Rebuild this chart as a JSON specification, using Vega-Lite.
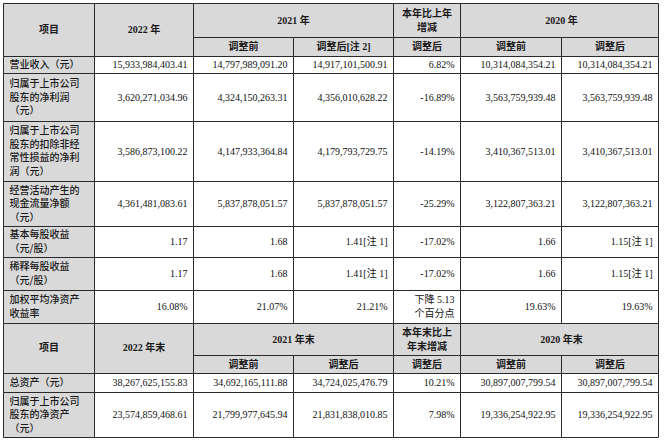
{
  "$schema": "https://vega.github.io/schema/vega-lite/v6.json",
  "width": 664,
  "height": 441,
  "padding": 0,
  "autosize": {"type": "none"},
  "background": "#ffffff",
  "config": {"view": {"stroke": null}},
  "data": {"values": [
    {"r":0,"r2":2,"c":0,"c2":1,"kind":"head","text":"项目"},
    {"r":0,"r2":2,"c":1,"c2":2,"kind":"head","text":"2022 年"},
    {"r":0,"r2":1,"c":2,"c2":4,"kind":"head","text":"2021 年"},
    {"r":0,"r2":1,"c":4,"c2":5,"kind":"head","text":"本年比上年\n增减"},
    {"r":0,"r2":1,"c":5,"c2":7,"kind":"head","text":"2020 年"},
    {"r":1,"r2":2,"c":2,"c2":3,"kind":"head","text":"调整前"},
    {"r":1,"r2":2,"c":3,"c2":4,"kind":"head","text":"调整后[注 2]"},
    {"r":1,"r2":2,"c":4,"c2":5,"kind":"head","text":"调整后"},
    {"r":1,"r2":2,"c":5,"c2":6,"kind":"head","text":"调整前"},
    {"r":1,"r2":2,"c":6,"c2":7,"kind":"head","text":"调整后"},

    {"r":2,"r2":3,"c":0,"c2":1,"kind":"label","text":"营业收入（元）"},
    {"r":2,"r2":3,"c":1,"c2":2,"kind":"value","text":"15,933,984,403.41"},
    {"r":2,"r2":3,"c":2,"c2":3,"kind":"value","text":"14,797,989,091.20"},
    {"r":2,"r2":3,"c":3,"c2":4,"kind":"value","text":"14,917,101,500.91"},
    {"r":2,"r2":3,"c":4,"c2":5,"kind":"value","text":"6.82%"},
    {"r":2,"r2":3,"c":5,"c2":6,"kind":"value","text":"10,314,084,354.21"},
    {"r":2,"r2":3,"c":6,"c2":7,"kind":"value","text":"10,314,084,354.21"},

    {"r":3,"r2":4,"c":0,"c2":1,"kind":"label","text":"归属于上市公司\n股东的净利润\n（元）"},
    {"r":3,"r2":4,"c":1,"c2":2,"kind":"value","text":"3,620,271,034.96"},
    {"r":3,"r2":4,"c":2,"c2":3,"kind":"value","text":"4,324,150,263.31"},
    {"r":3,"r2":4,"c":3,"c2":4,"kind":"value","text":"4,356,010,628.22"},
    {"r":3,"r2":4,"c":4,"c2":5,"kind":"value","text":"-16.89%"},
    {"r":3,"r2":4,"c":5,"c2":6,"kind":"value","text":"3,563,759,939.48"},
    {"r":3,"r2":4,"c":6,"c2":7,"kind":"value","text":"3,563,759,939.48"},

    {"r":4,"r2":5,"c":0,"c2":1,"kind":"label","text":"归属于上市公司\n股东的扣除非经\n常性损益的净利\n润（元）"},
    {"r":4,"r2":5,"c":1,"c2":2,"kind":"value","text":"3,586,873,100.22"},
    {"r":4,"r2":5,"c":2,"c2":3,"kind":"value","text":"4,147,933,364.84"},
    {"r":4,"r2":5,"c":3,"c2":4,"kind":"value","text":"4,179,793,729.75"},
    {"r":4,"r2":5,"c":4,"c2":5,"kind":"value","text":"-14.19%"},
    {"r":4,"r2":5,"c":5,"c2":6,"kind":"value","text":"3,410,367,513.01"},
    {"r":4,"r2":5,"c":6,"c2":7,"kind":"value","text":"3,410,367,513.01"},

    {"r":5,"r2":6,"c":0,"c2":1,"kind":"label","text":"经营活动产生的\n现金流量净额\n（元）"},
    {"r":5,"r2":6,"c":1,"c2":2,"kind":"value","text":"4,361,481,083.61"},
    {"r":5,"r2":6,"c":2,"c2":3,"kind":"value","text":"5,837,878,051.57"},
    {"r":5,"r2":6,"c":3,"c2":4,"kind":"value","text":"5,837,878,051.57"},
    {"r":5,"r2":6,"c":4,"c2":5,"kind":"value","text":"-25.29%"},
    {"r":5,"r2":6,"c":5,"c2":6,"kind":"value","text":"3,122,807,363.21"},
    {"r":5,"r2":6,"c":6,"c2":7,"kind":"value","text":"3,122,807,363.21"},

    {"r":6,"r2":7,"c":0,"c2":1,"kind":"label","text":"基本每股收益\n（元/股）"},
    {"r":6,"r2":7,"c":1,"c2":2,"kind":"value","text":"1.17"},
    {"r":6,"r2":7,"c":2,"c2":3,"kind":"value","text":"1.68"},
    {"r":6,"r2":7,"c":3,"c2":4,"kind":"value","text":"1.41[注 1]"},
    {"r":6,"r2":7,"c":4,"c2":5,"kind":"value","text":"-17.02%"},
    {"r":6,"r2":7,"c":5,"c2":6,"kind":"value","text":"1.66"},
    {"r":6,"r2":7,"c":6,"c2":7,"kind":"value","text":"1.15[注 1]"},

    {"r":7,"r2":8,"c":0,"c2":1,"kind":"label","text":"稀释每股收益\n（元/股）"},
    {"r":7,"r2":8,"c":1,"c2":2,"kind":"value","text":"1.17"},
    {"r":7,"r2":8,"c":2,"c2":3,"kind":"value","text":"1.68"},
    {"r":7,"r2":8,"c":3,"c2":4,"kind":"value","text":"1.41[注 1]"},
    {"r":7,"r2":8,"c":4,"c2":5,"kind":"value","text":"-17.02%"},
    {"r":7,"r2":8,"c":5,"c2":6,"kind":"value","text":"1.66"},
    {"r":7,"r2":8,"c":6,"c2":7,"kind":"value","text":"1.15[注 1]"},

    {"r":8,"r2":9,"c":0,"c2":1,"kind":"label","text":"加权平均净资产\n收益率"},
    {"r":8,"r2":9,"c":1,"c2":2,"kind":"value","text":"16.08%"},
    {"r":8,"r2":9,"c":2,"c2":3,"kind":"value","text":"21.07%"},
    {"r":8,"r2":9,"c":3,"c2":4,"kind":"value","text":"21.21%"},
    {"r":8,"r2":9,"c":4,"c2":5,"kind":"value","text":"下降 5.13\n个百分点"},
    {"r":8,"r2":9,"c":5,"c2":6,"kind":"value","text":"19.63%"},
    {"r":8,"r2":9,"c":6,"c2":7,"kind":"value","text":"19.63%"},

    {"r":9,"r2":11,"c":0,"c2":1,"kind":"head","text":"项目"},
    {"r":9,"r2":11,"c":1,"c2":2,"kind":"head","text":"2022 年末"},
    {"r":9,"r2":10,"c":2,"c2":4,"kind":"head","text":"2021 年末"},
    {"r":9,"r2":10,"c":4,"c2":5,"kind":"head","text":"本年末比上\n年末增减"},
    {"r":9,"r2":10,"c":5,"c2":7,"kind":"head","text":"2020 年末"},
    {"r":10,"r2":11,"c":2,"c2":3,"kind":"head","text":"调整前"},
    {"r":10,"r2":11,"c":3,"c2":4,"kind":"head","text":"调整后"},
    {"r":10,"r2":11,"c":4,"c2":5,"kind":"head","text":"调整后"},
    {"r":10,"r2":11,"c":5,"c2":6,"kind":"head","text":"调整前"},
    {"r":10,"r2":11,"c":6,"c2":7,"kind":"head","text":"调整后"},

    {"r":11,"r2":12,"c":0,"c2":1,"kind":"label","text":"总资产（元）"},
    {"r":11,"r2":12,"c":1,"c2":2,"kind":"value","text":"38,267,625,155.83"},
    {"r":11,"r2":12,"c":2,"c2":3,"kind":"value","text":"34,692,165,111.88"},
    {"r":11,"r2":12,"c":3,"c2":4,"kind":"value","text":"34,724,025,476.79"},
    {"r":11,"r2":12,"c":4,"c2":5,"kind":"value","text":"10.21%"},
    {"r":11,"r2":12,"c":5,"c2":6,"kind":"value","text":"30,897,007,799.54"},
    {"r":11,"r2":12,"c":6,"c2":7,"kind":"value","text":"30,897,007,799.54"},

    {"r":12,"r2":13,"c":0,"c2":1,"kind":"label","text":"归属于上市公司\n股东的净资产\n（元）"},
    {"r":12,"r2":13,"c":1,"c2":2,"kind":"value","text":"23,574,859,468.61"},
    {"r":12,"r2":13,"c":2,"c2":3,"kind":"value","text":"21,799,977,645.94"},
    {"r":12,"r2":13,"c":3,"c2":4,"kind":"value","text":"21,831,838,010.85"},
    {"r":12,"r2":13,"c":4,"c2":5,"kind":"value","text":"7.98%"},
    {"r":12,"r2":13,"c":5,"c2":6,"kind":"value","text":"19,336,254,922.95"},
    {"r":12,"r2":13,"c":6,"c2":7,"kind":"value","text":"19,336,254,922.95"}
  ]},
  "transform": [
    {"calculate": "(datum.c + datum.c2) / 2", "as": "cm"},
    {"calculate": "(datum.r + datum.r2) / 2", "as": "rm"},
    {"calculate": "split(datum.text, '\\n').length", "as": "nl"}
  ],
  "encoding": {},
  "layer": [
    {
      "mark": {"type": "rect", "stroke": "#2a2a2a", "strokeWidth": 1},
      "encoding": {
        "x": {"field": "c", "type": "quantitative", "axis": null,
              "scale": {"type": "linear", "domain": [0,1,2,3,4,5,6,7], "range": [3.5,94.5,193.5,293.5,393.5,460.5,561.5,658.5], "nice": false, "zero": false}},
        "x2": {"field": "c2"},
        "y": {"field": "r", "type": "quantitative", "axis": null,
              "scale": {"type": "linear", "domain": [0,1,2,3,4,5,6,7,8,9,10,11,12,13], "range": [3.5,37.5,56.5,73.5,121.5,181.5,226.5,257.5,290.5,323.5,355.5,373.5,392.5,437.5], "nice": false, "zero": false}},
        "y2": {"field": "r2"},
        "fill": {"field": "kind", "type": "nominal", "legend": null,
                 "scale": {"domain": ["head","label","value"], "range": ["#d9d9d9","#d9d9d9","#ffffff"]}}
      }
    },
    {
      "transform": [{"filter": "datum.kind == 'label' && datum.nl == 1"}],
      "mark": {"type": "text", "align": "left", "baseline": "middle", "dx": 6, "lineBreak": "\n", "lineHeight": 13.5,
               "font": "'Noto Sans CJK SC', sans-serif", "fontSize": 10, "fontWeight": 500, "color": "#1a1a1a"},
      "encoding": {"x": {"field": "c", "type": "quantitative"}, "y": {"field": "rm", "type": "quantitative"}, "text": {"field": "text"}}
    },
    {
      "transform": [{"filter": "datum.kind == 'label' && datum.nl == 2"}],
      "mark": {"type": "text", "align": "left", "baseline": "middle", "dx": 6, "dy": -6.75, "lineBreak": "\n", "lineHeight": 13.5,
               "font": "'Noto Sans CJK SC', sans-serif", "fontSize": 10, "fontWeight": 500, "color": "#1a1a1a"},
      "encoding": {"x": {"field": "c", "type": "quantitative"}, "y": {"field": "rm", "type": "quantitative"}, "text": {"field": "text"}}
    },
    {
      "transform": [{"filter": "datum.kind == 'label' && datum.nl == 3"}],
      "mark": {"type": "text", "align": "left", "baseline": "middle", "dx": 6, "dy": -13.5, "lineBreak": "\n", "lineHeight": 13.5,
               "font": "'Noto Sans CJK SC', sans-serif", "fontSize": 10, "fontWeight": 500, "color": "#1a1a1a"},
      "encoding": {"x": {"field": "c", "type": "quantitative"}, "y": {"field": "rm", "type": "quantitative"}, "text": {"field": "text"}}
    },
    {
      "transform": [{"filter": "datum.kind == 'label' && datum.nl == 4"}],
      "mark": {"type": "text", "align": "left", "baseline": "middle", "dx": 6, "dy": -20.25, "lineBreak": "\n", "lineHeight": 13.5,
               "font": "'Noto Sans CJK SC', sans-serif", "fontSize": 10, "fontWeight": 500, "color": "#1a1a1a"},
      "encoding": {"x": {"field": "c", "type": "quantitative"}, "y": {"field": "rm", "type": "quantitative"}, "text": {"field": "text"}}
    },
    {
      "transform": [{"filter": "datum.kind == 'value' && datum.nl == 1"}],
      "mark": {"type": "text", "align": "right", "baseline": "middle", "dx": -6,
               "font": "'Liberation Serif', 'Noto Sans CJK SC', serif", "fontSize": 10, "color": "#111111"},
      "encoding": {"x": {"field": "c2", "type": "quantitative"}, "y": {"field": "rm", "type": "quantitative"}, "text": {"field": "text"}}
    },
    {
      "transform": [{"filter": "datum.kind == 'value' && datum.nl == 2"}],
      "mark": {"type": "text", "align": "right", "baseline": "middle", "dx": -6, "dy": -7, "lineBreak": "\n", "lineHeight": 14,
               "font": "'Liberation Serif', 'Noto Sans CJK SC', serif", "fontSize": 10, "color": "#111111"},
      "encoding": {"x": {"field": "c2", "type": "quantitative"}, "y": {"field": "rm", "type": "quantitative"}, "text": {"field": "text"}}
    },
    {
      "transform": [{"filter": "datum.kind == 'head' && datum.r2 - datum.r == 1 && datum.nl == 1"}],
      "mark": {"type": "text", "align": "center", "baseline": "middle",
               "font": "'Liberation Serif', 'Noto Sans CJK SC', serif", "fontSize": 10, "fontWeight": "bold", "color": "#1a1a1a"},
      "encoding": {"x": {"field": "cm", "type": "quantitative"}, "y": {"field": "rm", "type": "quantitative"}, "text": {"field": "text"}}
    },
    {
      "transform": [{"filter": "datum.kind == 'head' && datum.r2 - datum.r == 1 && datum.nl == 2"}],
      "mark": {"type": "text", "align": "center", "baseline": "middle", "dy": -7, "lineBreak": "\n", "lineHeight": 14,
               "font": "'Liberation Serif', 'Noto Sans CJK SC', serif", "fontSize": 10, "fontWeight": "bold", "color": "#1a1a1a"},
      "encoding": {"x": {"field": "cm", "type": "quantitative"}, "y": {"field": "rm", "type": "quantitative"}, "text": {"field": "text"}}
    },
    {
      "transform": [{"filter": "datum.kind == 'head' && datum.r2 - datum.r == 2"}],
      "mark": {"type": "text", "align": "center", "baseline": "middle", "dy": -7.5,
               "font": "'Liberation Serif', 'Noto Sans CJK SC', serif", "fontSize": 10, "fontWeight": "bold", "color": "#1a1a1a"},
      "encoding": {"x": {"field": "cm", "type": "quantitative"}, "y": {"field": "rm", "type": "quantitative"}, "text": {"field": "text"}}
    }
  ]
}
